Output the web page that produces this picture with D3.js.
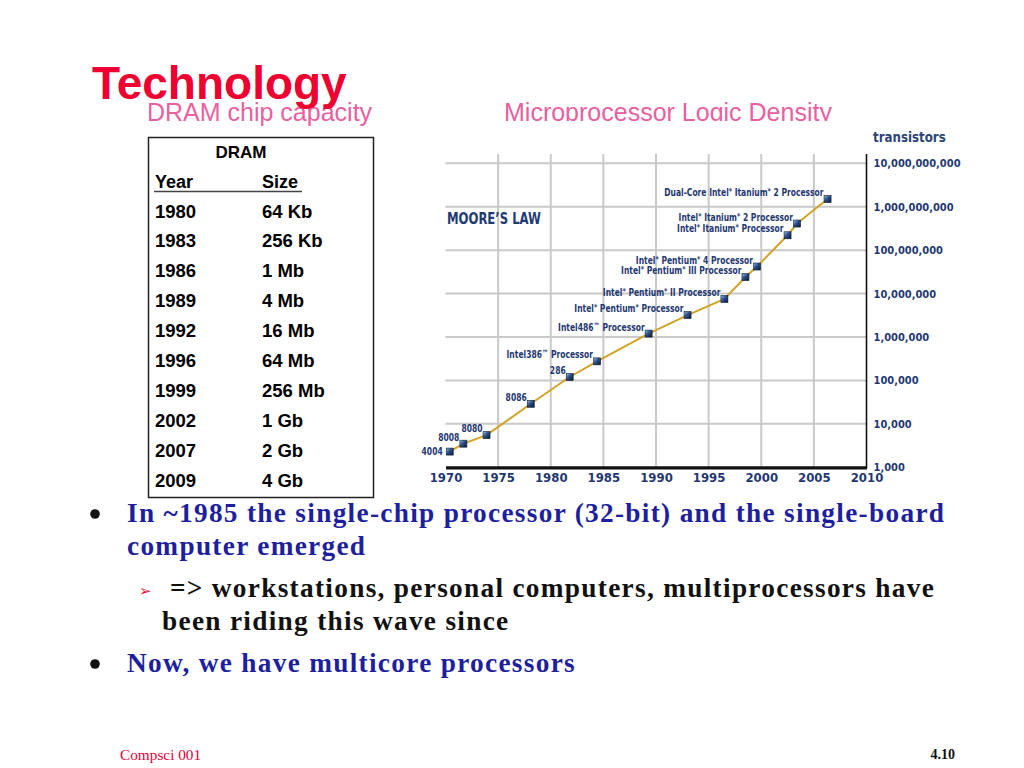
<!DOCTYPE html>
<html><head><meta charset="utf-8">
<script src="https://cdn.jsdelivr.net/npm/d3@7"></script>
<style>
html,body{margin:0;padding:0;background:#fff;}
svg{display:block;}
</style></head>
<body>
<svg id="c" width="1024" height="768"></svg>
<script>
// ---- DRAM table data ----
const dramYears = ["1980","1983","1986","1989","1992","1996","1999","2002","2007","2009"];
const dramSizes = ["64 Kb","256 Kb","1 Mb","4 Mb","16 Mb","64 Mb","256 Mb","1 Gb","2 Gb","4 Gb"];

// ---- Moore's law data ----
const procNames = ["4004","8008","8080","8086","286","Intel386™ Processor","Intel486™ Processor",
  "Intel® Pentium® Processor","Intel® Pentium® II Processor","Intel® Pentium® III Processor",
  "Intel® Pentium® 4 Processor","Intel® Itanium® Processor","Intel® Itanium® 2 Processor",
  "Dual-Core Intel® Itanium® 2 Processor"];
const procYears = [1970.4,1971.7,1973.9,1978.1,1981.8,1984.4,1989.3,1993.0,1996.5,1998.5,1999.6,2002.5,2003.4,2006.3];
const procTransistors = [2300,3500,5500,29000,120000,275000,1200000,3200000,7500000,24000000,42000000,220000000,410000000,1500000000];

const xTicks = [1970,1975,1980,1985,1990,1995,2000,2005,2010];
const yTicks = [1e3,1e4,1e5,1e6,1e7,1e8,1e9,1e10];
const yTickLabels = ["1,000","10,000","100,000","1,000,000","10,000,000","100,000,000","1,000,000,000","10,000,000,000"];

const bullets = [
  {lines:["In ~1985 the single-chip processor (32-bit) and the single-board","computer emerged"], level:0},
  {lines:["=> workstations, personal computers, multiprocessors have","been riding this wave since"], level:1},
  {lines:["Now, we have multicore processors"], level:0}
];

const svg = d3.select("#c");
const NAVY = "#1f3872";
const condensed = "'Liberation Sans Narrow','DejaVu Sans Condensed','Arial Narrow',sans-serif";

// ---- headings ----
svg.append("text").attr("x",147).attr("y",120.5)
  .attr("font-family","'Liberation Sans',Arial,sans-serif").attr("font-size",25)
  .attr("fill","#e8609f").text("DRAM chip capacity");

const defs = svg.append("defs");
defs.append("clipPath").attr("id","clipMP").append("rect")
  .attr("x",480).attr("y",80).attr("width",400).attr("height",41);
svg.append("text").attr("x",504).attr("y",120.5).attr("clip-path","url(#clipMP)")
  .attr("font-family","'Liberation Sans',Arial,sans-serif").attr("font-size",25)
  .attr("fill","#e8609f").text("Microprocessor Logic Density");

// ---- DRAM table ----
const tbl = svg.append("g");
tbl.append("rect").attr("x",148.5).attr("y",137.5).attr("width",225).attr("height",360)
  .attr("fill","#fff").attr("stroke","#222").attr("stroke-width",1.5);
const tFont = "'Liberation Sans',Arial,Helvetica,sans-serif";
tbl.append("text").attr("x",241).attr("y",158).attr("text-anchor","middle")
  .attr("font-family",tFont).attr("font-weight","bold").attr("font-size",17).text("DRAM");
tbl.append("text").attr("x",155).attr("y",188)
  .attr("font-family",tFont).attr("font-weight","bold").attr("font-size",18).text("Year");
tbl.append("text").attr("x",262).attr("y",188)
  .attr("font-family",tFont).attr("font-weight","bold").attr("font-size",18).text("Size");
tbl.append("line").attr("x1",154).attr("x2",302).attr("y1",191.5).attr("y2",191.5)
  .attr("stroke","#444").attr("stroke-width",1.3);
const rowY = d3.scaleLinear().domain([0,9]).range([217.5,487]);
tbl.selectAll("text.yr").data(dramYears).join("text").attr("class","yr")
  .attr("x",155).attr("y",(d,i)=>rowY(i))
  .attr("font-family",tFont).attr("font-weight","bold").attr("font-size",18.5).text(d=>d);
tbl.selectAll("text.sz").data(dramSizes).join("text").attr("class","sz")
  .attr("x",262).attr("y",(d,i)=>rowY(i))
  .attr("font-family",tFont).attr("font-weight","bold").attr("font-size",18.5).text(d=>d);

// ---- Moore's law chart ----
const x = d3.scaleLinear().domain([1970,2010]).range([445.5,866.5]);
const y = d3.scaleLog().domain([1e3,1e10]).range([467.3,163.3]);
const topY = 154;
const ch = svg.append("g");

// horizontal grid
ch.selectAll("line.hg").data(yTicks.slice(1)).join("line").attr("class","hg")
  .attr("x1",x(1970)).attr("x2",x(2010)).attr("y1",d=>y(d)).attr("y2",d=>y(d))
  .attr("stroke","#c9c9c9").attr("stroke-width",2);
// vertical grid
ch.selectAll("line.vg").data(xTicks.slice(1,-1)).join("line").attr("class","vg")
  .attr("x1",d=>x(d)).attr("x2",d=>x(d)).attr("y1",topY).attr("y2",y(1e3))
  .attr("stroke","#c9c9c9").attr("stroke-width",2);

// axes
const xAxis = d3.axisBottom(x).tickValues(xTicks).tickSize(0).tickPadding(5).tickFormat(d3.format("d"));
const gx = ch.append("g").attr("transform",`translate(0,${y(1e3)})`).call(xAxis);
gx.select(".domain").attr("stroke","#111").attr("stroke-width",3.2);
gx.selectAll("text").attr("font-family",condensed).attr("font-weight","bold")
  .attr("font-size",13).attr("fill",NAVY);

const yAxis = d3.axisRight(y).tickValues(yTicks).tickSize(0).tickPadding(7)
  .tickFormat((d,i)=>yTickLabels[i]);
const gy = ch.append("g").attr("transform",`translate(${x(2010)},0)`).call(yAxis);
gy.select(".domain").remove();
gy.selectAll("text").attr("font-family",condensed).attr("font-weight","bold")
  .attr("font-size",11).attr("fill",NAVY);
ch.append("line").attr("x1",x(2010)).attr("x2",x(2010)).attr("y1",topY).attr("y2",y(1e3)+1)
  .attr("stroke","#111").attr("stroke-width",1.6);

ch.append("text").attr("transform","translate(873,142) scale(0.94,1)")
  .attr("font-family",condensed).attr("font-weight","bold").attr("font-size",14)
  .attr("fill","#2a4478").text("transistors");
ch.append("text").attr("transform","translate(447,224) scale(0.81,1)")
  .attr("font-family",condensed).attr("font-weight","bold").attr("font-size",16)
  .attr("fill","#1f3b73").text("MOORE’S LAW");

// line
const pts = procYears.map((yr,i)=>({yr, v:procTransistors[i], name:procNames[i]}));
ch.append("path").datum(pts)
  .attr("d",d3.line().x(d=>x(d.yr)).y(d=>y(d.v)))
  .attr("fill","none").attr("stroke","#d2a327").attr("stroke-width",2);

// markers
const grad = defs.append("linearGradient").attr("id","mk").attr("x1",0).attr("y1",0).attr("x2",1).attr("y2",1);
grad.append("stop").attr("offset","0%").attr("stop-color","#9fc4ea");
grad.append("stop").attr("offset","45%").attr("stop-color","#2b4f86");
grad.append("stop").attr("offset","100%").attr("stop-color","#0b1530");
ch.selectAll("rect.mk").data(pts).join("rect").attr("class","mk")
  .attr("x",d=>x(d.yr)-3.5).attr("y",d=>y(d.v)-3.5).attr("width",7).attr("height",7)
  .attr("fill","url(#mk)").attr("stroke","#0e1a36").attr("stroke-width",0.6);

// labels (condensed look via horizontal scale)
const lbl = ch.selectAll("text.pl").data(pts).join("text").attr("class","pl")
  .attr("transform",(d,i)=>`translate(${x(d.yr)-(i===0?7:4)},${y(d.v)+(i===0?3.5:-3)}) scale(0.82,1)`)
  .attr("text-anchor","end")
  .attr("font-family",condensed).attr("font-weight","bold").attr("font-size",10.3)
  .attr("fill",NAVY);
lbl.each(function(d){
  const t = d3.select(this);
  const parts = d.name.split(/([®™])/);
  let pend = 0;
  parts.forEach(p=>{
    if(p==="") return;
    if(p==="®"||p==="™"){
      t.append("tspan").attr("font-size",8.5).attr("dy",-2+pend).text(p==="®"?"*":"™");
      pend = 2;
    } else { t.append("tspan").attr("dy",pend).text(p); pend = 0; }
  });
});

// ---- Title (on top) ----
svg.append("text").attr("x",92).attr("y",98.5)
  .attr("font-family","'Liberation Sans',Arial,Helvetica,sans-serif").attr("font-weight","bold")
  .attr("font-size",46).attr("fill","#ee0030").text("Technology");

// ---- bullets ----
const serif = "'Liberation Serif','DejaVu Serif',serif";
const bl = svg.append("g");
const bLines = [
  {t:bullets[0].lines[0], x:127, y:522, c:"#1d1f9e"},
  {t:bullets[0].lines[1], x:127, y:555, c:"#1d1f9e"},
  {t:bullets[1].lines[0], x:170, y:597, c:"#111"},
  {t:bullets[1].lines[1], x:162, y:630, c:"#111"},
  {t:bullets[2].lines[0], x:127, y:672, c:"#1d1f9e"}
];
bl.selectAll("text").data(bLines).join("text")
  .attr("x",d=>d.x).attr("y",d=>d.y).attr("fill",d=>d.c)
  .attr("font-family",serif).attr("font-weight","bold").attr("font-size",27.3)
  .attr("letter-spacing",1.3)
  .text(d=>d.t);
bl.selectAll("circle").data([514,664]).join("circle")
  .attr("cx",95).attr("cy",d=>d).attr("r",4.8).attr("fill","#111");
bl.append("text").attr("x",139).attr("y",596).attr("fill","#e8183a")
  .attr("font-family","'DejaVu Sans',sans-serif").attr("font-size",15).text("➢");

// ---- footer ----
svg.append("text").attr("x",120).attr("y",760).attr("fill","#e4003a")
  .attr("font-family",serif).attr("font-size",15.3).text("Compsci 001");
svg.append("text").attr("x",955).attr("y",759).attr("text-anchor","end").attr("fill","#111")
  .attr("font-family",serif).attr("font-size",14).attr("font-weight","bold").text("4.10");
</script>
</body></html>
